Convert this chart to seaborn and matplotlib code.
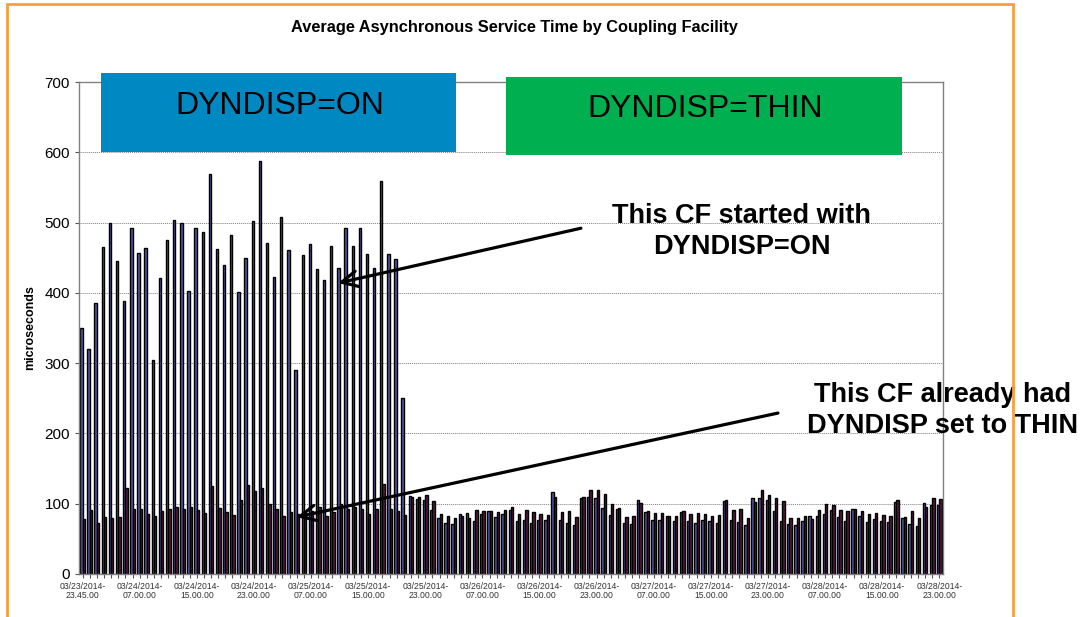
import pandas as pd
import seaborn as sns
import matplotlib.pyplot as plt
from matplotlib.patches import Rectangle

# ==========================================
# 1. DATA (one value per hour)
# ==========================================
cf_started_on = [350, 320, 385, 466, 499, 446, 389, 492, 457, 464,
                 305, 421, 475, 504, 499, 403, 493, 486, 569, 462,
                 440, 483, 401, 450, 503, 588, 471, 422, 508, 461,
                 290, 454, 469, 434, 418, 467, 436, 493, 467, 493,
                 455, 436, 559, 455, 448, 250, 111, 107, 105, 91,
                 80, 72, 71, 86, 87, 76, 86, 89, 81, 85,
                 91, 76, 77, 73, 77, 77, 117, 77, 73, 70,
                 108, 109, 108, 94, 84, 92, 72, 71, 106, 88,
                 77, 77, 82, 75, 88, 76, 73, 77, 75, 73,
                 104, 77, 74, 70, 108, 108, 105, 90, 76, 71,
                 70, 75, 83, 82, 85, 91, 81, 75, 92, 82,
                 74, 78, 75, 74, 102, 79, 71, 69, 101, 98, 98]

cf_already_thin = [78, 91, 72, 81, 80, 81, 123, 92, 92, 86,
                   83, 90, 92, 95, 93, 96, 91, 87, 125, 94,
                   88, 84, 106, 127, 118, 122, 100, 92, 83, 88,
                   85, 87, 89, 95, 83, 88, 100, 92, 95, 92,
                   85, 92, 128, 93, 90, 84, 109, 110, 112, 104,
                   86, 82, 80, 82, 80, 91, 90, 89, 88, 91,
                   95, 86, 91, 88, 85, 84, 109, 88, 89, 81,
                   109, 120, 119, 114, 99, 94, 81, 82, 101, 90,
                   87, 87, 82, 83, 89, 86, 87, 85, 82, 84,
                   106, 91, 93, 80, 102, 120, 113, 108, 104, 80,
                   79, 82, 78, 91, 99, 98, 91, 89, 93, 89,
                   86, 87, 84, 83, 106, 81, 90, 80, 96, 108, 107]

# first interval is 23:45, then hourly from midnight
hours = pd.date_range('2014-03-24 00:00', periods=len(cf_started_on) - 1, freq='h')
time_labels = ['03/23/2014-\n23.45.00'] + [t.strftime('%m/%d/%Y-\n%H.%M.00') for t in hours]

df = pd.DataFrame({
    'time': time_labels * 2,
    'cf': ['started_on'] * len(time_labels) + ['already_thin'] * len(time_labels),
    'value': cf_started_on + cf_already_thin,
})

# ==========================================
# 2. PLOT
# ==========================================
sns.set_style('white')
plt.rcParams['font.family'] = ['Liberation Sans', 'DejaVu Sans']
plt.rcParams['text.color'] = 'black'
plt.rcParams['axes.labelcolor'] = 'black'
plt.rcParams['xtick.color'] = '#555555'
plt.rcParams['ytick.color'] = '#555555'

fig = plt.figure(figsize=(10.88, 6.17), dpi=100)
ax = fig.add_axes([0.0726, 0.0697, 0.794, 0.7973])

sns.barplot(data=df, x='time', y='value', hue='cf', order=time_labels,
            palette=['#4a4aa8', '#5c0f3c'], width=0.66, gap=0.0,
            edgecolor='black', linewidth=1.0, legend=False, ax=ax)

ax.set_xlim(-0.5, len(time_labels) - 0.5)
ax.set_ylim(0, 700)
ax.set_yticks(range(0, 701, 100))
ax.tick_params(axis='y', labelsize=11, labelcolor='black', length=3, direction='out', left=True)
ax.set_xticks(range(len(time_labels)))
ax.set_xticklabels([lab if i % 8 == 0 else '' for i, lab in enumerate(time_labels)],
                   fontsize=6.2, color='#333333', linespacing=1.0)
ax.tick_params(axis='x', length=3, direction='out', bottom=True, pad=2.5)
ax.yaxis.grid(True, linestyle=(0, (1, 1)), color='#808080', linewidth=0.7)
ax.set_axisbelow(True)
for side in ['left', 'bottom', 'top', 'right']:
    ax.spines[side].set_color('#808080')
    ax.spines[side].set_linewidth(1.0)
ax.set_xlabel('')
ax.set_ylabel('microseconds', fontsize=9, fontweight='bold', labelpad=6)

fig.text(0.473, 0.955, 'Average Asynchronous Service Time by Coupling Facility',
         ha='center', va='center', fontsize=11.8, fontweight='bold')

# Coloured banners
ax.add_patch(Rectangle((0.0255, 0.858), 0.4108, 0.160, transform=ax.transAxes,
                       facecolor='#0088c2', edgecolor='none', clip_on=False, zorder=5))
ax.add_patch(Rectangle((0.494, 0.852), 0.459, 0.158, transform=ax.transAxes,
                       facecolor='#00b050', edgecolor='none', clip_on=False, zorder=5))
ax.text(0.111, 0.952, 'DYNDISP=ON', transform=ax.transAxes, fontsize=23,
        ha='left', va='center', zorder=6)
ax.text(0.588, 0.946, 'DYNDISP=THIN', transform=ax.transAxes, fontsize=23,
        ha='left', va='center', zorder=6)

# Callouts
ax.annotate('', xy=(35.8, 414), xytext=(69.8, 492),
            arrowprops=dict(arrowstyle='->', lw=2.3, color='black', mutation_scale=28,
                            shrinkA=0, shrinkB=0), zorder=7)
ax.text(92.3, 488, 'This CF started with\nDYNDISP=ON', ha='center', va='center',
        fontsize=19.5, fontweight='bold', linespacing=1.25, zorder=7)
ax.annotate('', xy=(30.0, 81), xytext=(97.4, 229),
            arrowprops=dict(arrowstyle='->', lw=2.3, color='black', mutation_scale=28,
                            shrinkA=0, shrinkB=0), zorder=7)
ax.text(120.4, 232, 'This CF already had\nDYNDISP set to THIN', ha='center', va='center',
        fontsize=19.5, fontweight='bold', linespacing=1.25, zorder=7, clip_on=False)

# Orange slide frame
fig.patches.append(Rectangle((0.0064, -0.05), 0.9246, 1.044, transform=fig.transFigure,
                             facecolor='none', edgecolor='#f7a040', linewidth=2.0))

fig.savefig('out.png', dpi=100)
